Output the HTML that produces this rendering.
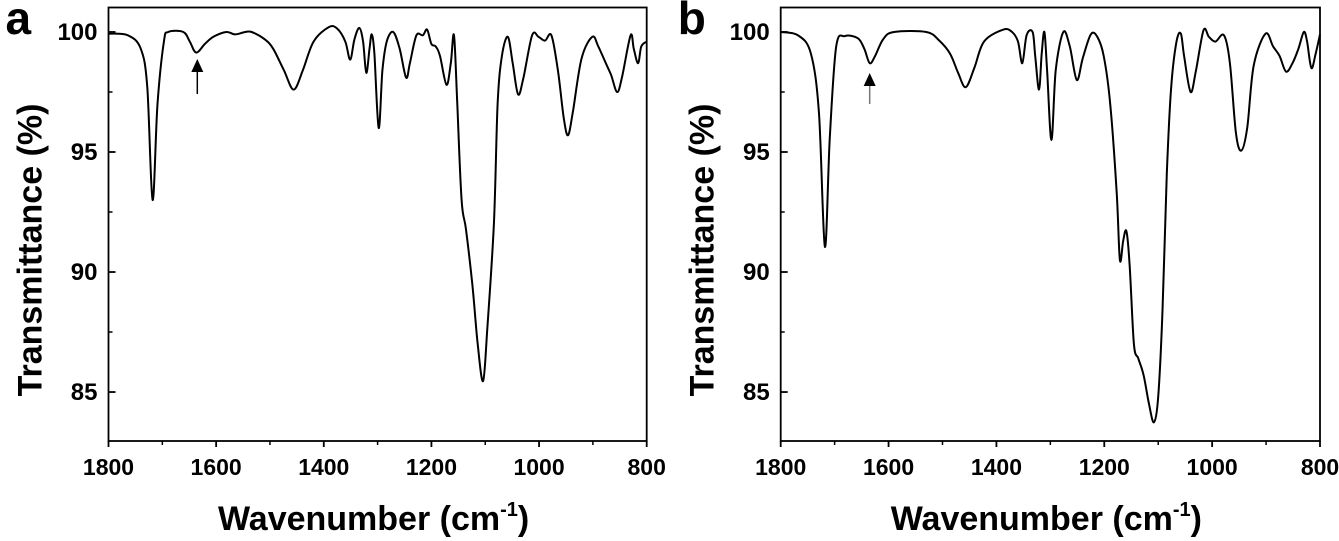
<!DOCTYPE html>
<html><head><meta charset="utf-8">
<style>
body{margin:0;background:#fff;}
svg{display:block;font-family:"Liberation Sans",Arial,sans-serif;}
</style></head>
<body>
<svg id="chart" width="1339" height="541" viewBox="0 0 1339 541"></svg>
<script>
const wnA = [1800,1764,1740,1728,1718,1709,1697,1689,1661,1649,1637,1621,1605,1581,1565,1546,1534,1510,1494,1474,1456,1439,1419,1391,1375,1360,1351,1343,1334,1327,1321,1315,1311,1306,1298,1291,1283,1271,1259,1247,1240,1228,1216,1208,1200,1192,1184,1172,1164,1158,1152,1144,1136,1124,1114,1104,1096,1084,1077,1069,1058,1049,1039,1029,1013,1001,989,977,965,954,946,937,921,901,890,874,866,855,846,830,824,816,810,800];
const tA = [99.93,99.86,99.3,97.7,93.0,97.0,99.6,100,100,99.6,99.14,99.5,99.8,100,99.9,100,100,99.7,99.3,98.4,97.6,98.4,99.6,100.2,100.14,99.6,98.85,99.7,100.17,99.6,98.3,99.3,99.9,99.1,96.0,98.4,99.6,100,99.3,98.1,98.7,99.86,99.86,100.1,99.5,99.4,99.0,97.8,98.7,99.86,97.0,93.0,91.8,89.5,87.0,85.46,87.7,92.0,97.0,99.0,99.8,98.7,97.4,98.1,99.86,99.8,99.64,99.86,98.4,96.4,95.7,96.7,98.9,99.8,99.4,98.6,98.2,97.5,98.1,99.86,99.3,98.7,99.4,99.6];
const wnB = [1800,1768,1744,1729,1718,1709,1697,1681,1657,1645,1635,1625,1610,1590,1530,1506,1486,1471,1457,1441,1423,1387,1371,1360,1352,1344,1333,1328,1321,1316,1311,1306,1298,1290,1276,1264,1251,1240,1225,1213,1201,1189,1177,1171,1165,1159,1153,1145,1137,1127,1117,1108,1100,1092,1084,1076,1066,1058,1052,1040,1030,1016,1006,994,978,967,956,946,935,923,901,887,875,863,851,840,830,824,816,808,800];
const tB = [100,99.86,99.1,96.6,91.05,95.6,99.4,99.83,99.74,99.3,98.7,99.0,99.7,100,100,99.64,99.1,98.3,97.7,98.5,99.6,100.1,100,99.6,98.7,99.86,100,99.0,97.6,99.1,100,98.4,95.5,98.4,100,99.4,98.0,98.9,99.9,99.8,99.0,97.0,93.3,90.5,91.3,91.7,90.3,87.0,86.4,85.7,84.5,83.74,84.8,88.4,94.1,97.7,99.6,99.93,99.0,97.5,98.4,100.07,99.8,99.6,99.86,98.7,95.8,95.06,96.0,98.6,99.93,99.4,99.0,98.35,98.7,99.3,100,99.6,98.5,99.1,99.9];
const xTicks = [1800,1600,1400,1200,1000,800];
const xMinor = [1700,1500,1300,1100,900];
const yTicks = [100,95,90,85];
const yMinor = [97.5,92.5,87.5];
const arrowWn = 1635;

const NS='http://www.w3.org/2000/svg';
const svg=document.getElementById('chart');
function mk(tag,attrs,parent){const e=document.createElementNS(NS,tag);for(const k in attrs)e.setAttribute(k,attrs[k]);(parent||svg).appendChild(e);return e;}

function panel(left,right,wn,t,letter,arrowTip,arrowTail,arrowCol){
  const top=7.5,bottom=441,yMin=82.96,yMax=101.02;
  const X=w=>left+(1800-w)/1000*(right-left);
  const Y=v=>bottom-(v-yMin)/(yMax-yMin)*(bottom-top);
  const g=mk('g',{});
  
  
  const frame=mk('rect',{x:left,y:top,width:right-left,height:bottom-top,fill:'none',stroke:'#000','stroke-width':1.8},g);
  
  
  xTicks.forEach(w=>{
    mk('line',{x1:X(w),x2:X(w),y1:bottom,y2:bottom+6,stroke:'#000','stroke-width':1.8},g);
    const tx=mk('text',{x:X(w),y:475,'text-anchor':'middle','font-size':23,'font-weight':'bold'},g);
    tx.textContent=w;
    
    
  });
  xMinor.forEach(w=>mk('line',{x1:X(w),x2:X(w),y1:bottom,y2:bottom+4,stroke:'#000','stroke-width':1.5},g));
  yTicks.forEach(v=>{
    mk('line',{x1:left,x2:left+7,y1:Y(v),y2:Y(v),stroke:'#000','stroke-width':1.8},g);
    const ty=mk('text',{x:left-11,y:Y(v)+8,'text-anchor':'end','font-size':24,'font-weight':'bold'},g);
    ty.textContent=v;
    
    
  });
  yMinor.forEach(v=>mk('line',{x1:left,x2:left+4,y1:Y(v),y2:Y(v),stroke:'#000','stroke-width':1.5},g));
  const pts=wn.map((w,i)=>[X(w),Y(t[i])]);
  let d='M'+pts[0][0].toFixed(1)+','+pts[0][1].toFixed(1);
  for(let i=0;i<pts.length-1;i++){
    const p0=pts[Math.max(0,i-1)],p1=pts[i],p2=pts[i+1],p3=pts[Math.min(pts.length-1,i+2)];
    const c1=[p1[0]+(p2[0]-p0[0])/6,p1[1]+(p2[1]-p0[1])/6];
    const c2=[p2[0]-(p3[0]-p1[0])/6,p2[1]-(p3[1]-p1[1])/6];
    d+=' C'+c1[0].toFixed(1)+','+c1[1].toFixed(1)+' '+c2[0].toFixed(1)+','+c2[1].toFixed(1)+' '+p2[0].toFixed(1)+','+p2[1].toFixed(1);
  }
  const line=mk('path',{d:d,fill:'none',stroke:'#000','stroke-width':2,'stroke-linejoin':'round'},g);
  
  
  const ax=X(arrowWn);
  const ar=mk('g',{},g);
  
  
  mk('line',{x1:ax,x2:ax,y1:arrowTip+10,y2:arrowTail,stroke:arrowCol,'stroke-width':1.5},ar);
  mk('polygon',{points:`${ax},${arrowTip} ${ax-6},${arrowTip+13} ${ax+6},${arrowTip+13}`,fill:'#000'},ar);
  const lt=mk('text',{x:left-103,y:34,'font-size':46,'font-weight':'bold'},g);
  lt.textContent=letter;
  
  
  const yt=mk('text',{x:0,y:0,transform:`translate(${left-67},250) rotate(-90)`,'text-anchor':'middle','font-size':34,'font-weight':'bold'},g);
  yt.textContent='Transmittance (%)';
  
  
  const xt=mk('text',{x:(left+right)/2-4,y:530,'text-anchor':'middle','font-size':34,'font-weight':'bold'},g);
  xt.innerHTML='Wavenumber (cm<tspan dy="-14" font-size="20">-1</tspan><tspan dy="14">)</tspan>';
  
  
}
panel(108.5,646.7,wnA,tA,'a',59,94,'#000');
panel(780.7,1320,wnB,tB,'b',73,104,'#777');
</script>
</body></html>
